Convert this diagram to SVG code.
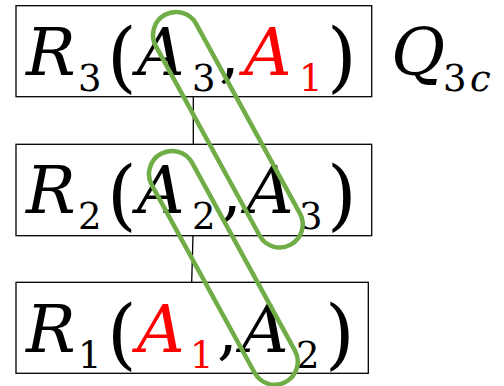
<svg xmlns="http://www.w3.org/2000/svg" width="504" height="386" viewBox="0 0 504 386">
<style>
.box{fill:#fff;stroke:#000;stroke-width:1.3}
.t{font-family:"DejaVu Serif",serif;font-size:66px;fill:#000}
.i{font-style:italic}
.s{font-size:37px}
.p{font-size:76px}
.r{fill:#f00}
.loop{fill:none;stroke:#70AD47;stroke-width:4.5}
.conn{stroke:#000;stroke-width:1.3;fill:none}
</style>
<g id="connectors">
<line class="conn" x1="193.3" y1="96.7" x2="193.3" y2="144.3"/>
<line class="conn" x1="193" y1="235.7" x2="191.7" y2="282.3"/>
</g>
<g id="R3">
<rect class="box" x="16" y="5.7" width="355.7" height="91"/>
<text class="t"><tspan class="i" x="26" y="75">R</tspan><tspan class="s" x="78" y="91">3</tspan><tspan class="p" x="107" y="83">(</tspan><tspan class="i" x="137" y="75">A</tspan><tspan class="s" x="192" y="91">3</tspan><tspan x="219" y="75">,</tspan><tspan class="i r" x="244" y="75">A</tspan><tspan class="s r" x="299" y="91">1</tspan><tspan class="p" x="327" y="83">)</tspan></text>
</g>
<g id="R2">
<rect class="box" x="16" y="144.3" width="355.7" height="91.4"/>
<text class="t"><tspan class="i" x="26" y="213">R</tspan><tspan class="s" x="78" y="229">2</tspan><tspan class="p" x="107" y="221">(</tspan><tspan class="i" x="137" y="213">A</tspan><tspan class="s" x="192" y="229">2</tspan><tspan x="221" y="213">,</tspan><tspan class="i" x="246" y="213">A</tspan><tspan class="s" x="299" y="229">3</tspan><tspan class="p" x="327" y="221">)</tspan></text>
</g>
<g id="R1">
<rect class="box" x="16" y="282.3" width="352.3" height="91"/>
<text class="t"><tspan class="i" x="26" y="352">R</tspan><tspan class="s" x="78" y="368">1</tspan><tspan class="p" x="107" y="360">(</tspan><tspan class="i r" x="137" y="352">A</tspan><tspan class="s r" x="190" y="368">1</tspan><tspan x="217" y="352">,</tspan><tspan class="i" x="241" y="352">A</tspan><tspan class="s" x="296" y="368">2</tspan><tspan class="p" x="325" y="360">)</tspan></text>
</g>
<g id="Q3c">
<text class="t"><tspan class="i" x="391" y="75">Q</tspan><tspan class="s" x="443" y="91">3</tspan><tspan class="s i" x="470" y="91">c</tspan></text>
</g>
<g id="loops">
<path class="loop" transform="translate(176 35) rotate(61.3)" d="M0,-23 H216 A23,23 0 0 1 216,23 H0 A23,23 0 0 1 0,-23 Z"/>
<path class="loop" transform="translate(172 174) rotate(61.3)" d="M0,-23 H214 A23,23 0 0 1 214,23 H0 A23,23 0 0 1 0,-23 Z"/>
</g>
</svg>
